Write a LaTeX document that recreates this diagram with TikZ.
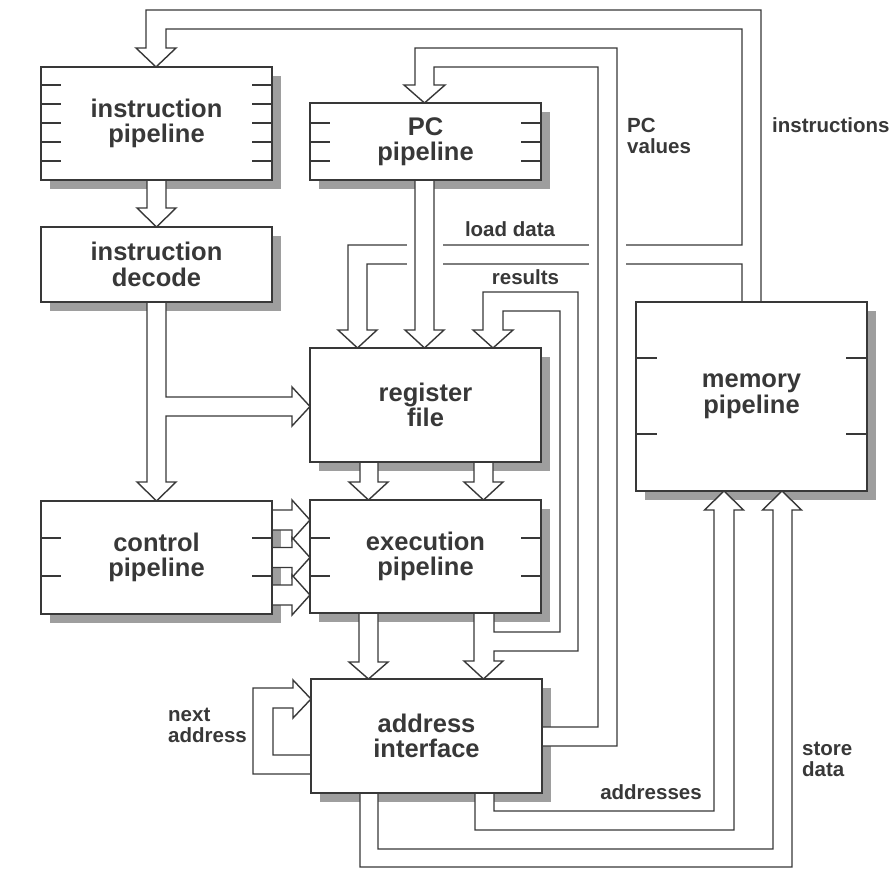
\documentclass[tikz,border=0pt]{standalone}
\usepackage{fontspec}
\setmainfont{Liberation Sans}
\definecolor{ink}{HTML}{383838}
\definecolor{shade}{HTML}{9E9E9E}
\pgfdeclarelayer{bg}
\pgfdeclarelayer{pipes}
\pgfsetlayers{bg,pipes,main}
\newcommand\boxfont{\fontsize{25.5}{25.5}\selectfont\bfseries}
\newcommand\lblfont{\fontsize{20.5}{21}\selectfont\bfseries}
\tikzset{
  boxsty/.style={draw=ink, line width=2.4pt, fill=white, align=center, font=\boxfont,
    text=ink, inner sep=0pt, outer sep=0pt, minimum width=231pt},
  pipe/.style={draw=ink, line width=1.4pt, fill=white, line join=miter},
  ticksty/.style={draw=ink, line width=1.3pt},
  shadowsty/.style={fill=shade},
  lbl/.style={font=\lblfont, text=ink, inner sep=0pt, align=left},
}
\begin{document}
\begin{tikzpicture}[x=1pt,y=-1pt]
\useasboundingbox (0,0) rectangle (891,869);
% boxes
\node[boxsty, minimum height=113pt] (ip) at (156.5,123.5) {instruction\\pipeline};
\node[boxsty, minimum height=75pt]  (id) at (156.5,264.5) {instruction\\decode};
\node[boxsty, minimum height=77pt]  (pc) at (425.5,141.5) {PC\\pipeline};
\node[boxsty, minimum height=114pt] (rf) at (425.5,405) {register\\file};
\node[boxsty, minimum height=113pt] (cp) at (156.5,557.5) {control\\pipeline};
\node[boxsty, minimum height=113pt] (ep) at (425.5,556.5) {execution\\pipeline};
\node[boxsty, minimum height=114pt] (ai) at (426.5,736) {address\\interface};
\node[boxsty, minimum height=189pt] (mp) at (751.5,396.5) {memory\\pipeline};
% ticks
\foreach \y in {85,104,123,142,161} {
  \draw[ticksty] (ip.west |- 0,\y) -- ++(20,0);
  \draw[ticksty] (ip.east |- 0,\y) -- ++(-20,0);
}
\foreach \y in {123,142,161} {
  \draw[ticksty] (pc.west |- 0,\y) -- ++(20,0);
  \draw[ticksty] (pc.east |- 0,\y) -- ++(-20,0);
}
\foreach \y in {538,576} {
  \draw[ticksty] (cp.west |- 0,\y) -- ++(20,0);
  \draw[ticksty] (cp.east |- 0,\y) -- ++(-20,0);
  \draw[ticksty] (ep.west |- 0,\y) -- ++(20,0);
  \draw[ticksty] (ep.east |- 0,\y) -- ++(-20,0);
}
\foreach \y in {358,434} {
  \draw[ticksty] (mp.west |- 0,\y) -- ++(21,0);
  \draw[ticksty] (mp.east |- 0,\y) -- ++(-21,0);
}
% labels
\node[lbl, anchor=west] (linstr) at (772,125) {instructions};
\node[lbl, anchor=west] (lpc) at (627,136) {PC\\values};
\node[lbl] (lload) at (510,229) {load data};
\node[lbl] (lres) at (525.5,277) {results};
\node[lbl, anchor=west] (lnext) at (168,725.5) {next\\address};
\node[lbl] (laddr) at (651,792.5) {addresses};
\node[lbl, anchor=west] (lstore) at (802,759.5) {store\\data};
% shadows
\begin{pgfonlayer}{bg}
\fill[white] (0,0) rectangle (891,869);
\foreach \n in {ip,id,pc,rf,cp,ep,ai,mp}
  \fill[shadowsty] ([shift={(9,9)}]\n.north west) rectangle ([shift={(9,9)}]\n.south east);
\end{pgfonlayer}
% pipes
\begin{pgfonlayer}{pipes}
% instructions + load data (from memory pipeline top)
\draw[pipe] (761,302) -- (761,10) -- (146,10) -- (146,48) -- (136,48) -- (156,67) -- (176,48) -- (166,48)
  -- (166,29) -- (742,29) -- (742,245) -- (348,245) -- (348,330) -- (338,330) -- (357.5,348) -- (377,330)
  -- (367,330) -- (367,264) -- (742,264) -- (742,302) -- cycle;
\fill[white] (407,243) rectangle (443,266);
\fill[white] (589,243) rectangle (626,266);
% PC values (address interface -> PC pipeline)
\draw[pipe] (542,727) -- (598,727) -- (598,67) -- (434,67) -- (434,85) -- (445,85) -- (424.5,103)
  -- (404,85) -- (415,85) -- (415,48) -- (617,48) -- (617,746) -- (542,746) -- cycle;
% PC pipeline -> register file
\draw[pipe] (415,180) -- (415,330) -- (405,330) -- (424.5,348) -- (444,330) -- (434,330) -- (434,180) -- cycle;
% execution -> address interface + results -> register file
\draw[pipe] (474,613) -- (474,661) -- (464,661) -- (483.5,679) -- (503,661) -- (494,661) -- (494,651)
  -- (578,651) -- (578,292) -- (483,292) -- (483,330) -- (473,330) -- (493,348) -- (513,330) -- (503,330)
  -- (503,311) -- (560,311) -- (560,632) -- (494,632) -- (494,613) -- cycle;
% register file -> execution
\draw[pipe] (360,462) -- (360,482) -- (349,482) -- (368.5,500) -- (388,482) -- (378,482) -- (378,462) -- cycle;
\draw[pipe] (474,462) -- (474,482) -- (464,482) -- (483.5,500) -- (503,482) -- (493,482) -- (493,462) -- cycle;
% execution -> address interface (left)
\draw[pipe] (359,613) -- (359,662) -- (349,662) -- (368.5,679) -- (388,662) -- (378,662) -- (378,613) -- cycle;
% instruction pipeline -> decode
\draw[pipe] (147,180) -- (147,208) -- (137,208) -- (156.5,227) -- (176,208) -- (166,208) -- (166,180) -- cycle;
% decode -> control / register file
\draw[pipe] (147,302) -- (147,482) -- (137,482) -- (156.5,501) -- (176,482) -- (166,482) -- (166,416)
  -- (292,416) -- (292,426) -- (310,406.5) -- (292,387) -- (292,397) -- (166,397) -- (166,302) -- cycle;
% control -> execution
\foreach \c in {520,557.5,595}
  \draw[pipe] (272,\c-10) -- (292,\c-10) -- (292,\c-20) -- (310,\c) -- (292,\c+20) -- (292,\c+10) -- (272,\c+10) -- cycle;
% next address loop
\draw[pipe] (311,755) -- (273,755) -- (273,708) -- (293,708) -- (293,718) -- (311,699) -- (293,680)
  -- (293,688) -- (253,688) -- (253,774) -- (311,774) -- cycle;
% addresses
\draw[pipe] (475,793) -- (475,830) -- (734,830) -- (734,510) -- (743.5,510) -- (724,491) -- (704.5,510)
  -- (714,510) -- (714,811) -- (494,811) -- (494,793) -- cycle;
% store data
\draw[pipe] (360,793) -- (360,867) -- (792,867) -- (792,510) -- (801.5,510) -- (782,491) -- (762.5,510)
  -- (773,510) -- (773,849) -- (378,849) -- (378,793) -- cycle;
\end{pgfonlayer}
\end{tikzpicture}
\end{document}
